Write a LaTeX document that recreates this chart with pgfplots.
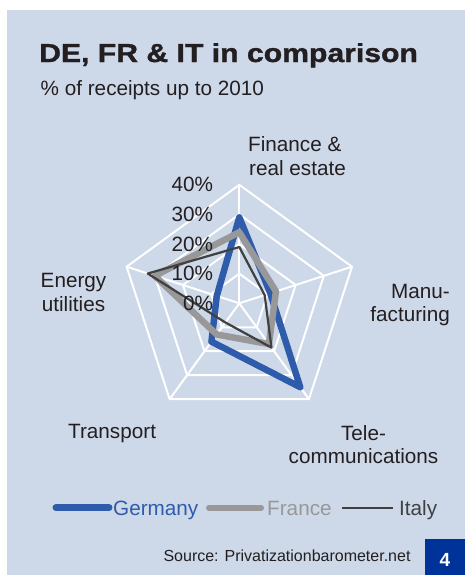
\documentclass[border=0pt]{standalone}
\usepackage{fontspec}
\setmainfont{Liberation Sans}
\newfontfamily\titlefont[BoldFeatures={FakeBold=1.2}]{Liberation Sans}
\usepackage{pgfplots}
\pgfplotsset{compat=1.18}
\usepgfplotslibrary{polar}

\definecolor{panel}{RGB}{205,216,233}
\definecolor{gerblue}{RGB}{46,92,170}
\definecolor{fragray}{RGB}{152,152,152}
\definecolor{itagray}{RGB}{64,64,64}
\definecolor{txt}{RGB}{35,31,32}
\definecolor{boxblue}{RGB}{0,51,153}

\newcommand{\fs}[1]{\fontsize{#1bp}{#1bp}\selectfont}

% angle (deg) / share of receipts (%)
% Finance 90, Manufacturing 18, Telecom 306, Transport 234, Energy 162
\pgfplotstableread{
ang val
90  29
18  11
306 35
234 16
162 8
}\germany
\pgfplotstableread{
ang val
90  24
18  13
306 17
234 13
162 30
}\france
\pgfplotstableread{
ang val
90  19
18  9
306 18.5
234 8
162 32.5
}\italy

\begin{document}
\begin{tikzpicture}
\path[use as bounding box] (0,0) rectangle (465bp,-575bp);
\fill[panel] (7bp,-10bp) rectangle (465bp,-575bp);

% title
\node[anchor=base west, inner sep=0, text=txt] at (39bp,-62bp)
  {\scalebox{1.16}[1]{\fs{26}\titlefont\bfseries DE, FR \& IT in comparison}};
\node[anchor=base west, inner sep=0, text=txt] at (40.5bp,-95bp)
  {\fs{20.7}\% of receipts up to 2010};

% category labels
\begin{scope}[every node/.style={inner sep=0, text=txt, font=\fs{20.7}}]
\node[anchor=base west] at (248bp,-151.7bp) {Finance \&};
\node[anchor=base west] at (249bp,-175bp) {real estate};
\node[anchor=base east] at (450bp,-298bp) {Manu-};
\node[anchor=base east] at (450bp,-321.7bp) {facturing};
\node[anchor=base] at (363.5bp,-440bp) {Tele-};
\node[anchor=base] at (363.5bp,-463bp) {communications};
\node[anchor=base west] at (68bp,-438bp) {Transport};
\node[anchor=base] at (73.5bp,-287bp) {Energy};
\node[anchor=base] at (73.5bp,-311.7bp) {utilities};
\end{scope}

\begin{polaraxis}[
  at={(239.3bp,-303.3bp)}, anchor=center,
  hide axis, scale only axis,
  width=237bp, height=237bp,
  xmin=0, xmax=360, ymin=0, ymax=40,
  clip=false,
  every axis plot/.append style={line join=round, line cap=round},
]
% pentagon grid
\pgfplotsinvokeforeach{10,20,30,40}{
  \addplot[white, line width=2bp, mark=none] coordinates
    {(90,#1) (18,#1) (306,#1) (234,#1) (162,#1) (90,#1)} -- cycle;
}
\pgfplotsinvokeforeach{90,18,306,234,162}{
  \addplot[white, line width=2bp, mark=none] coordinates {(#1,0) (#1,40)};
}

% series
\addplot[gerblue, line width=6.5bp, mark=none] table[x=ang, y=val] {\germany} -- cycle;
\addplot[fragray, line width=6.5bp, mark=none] table[x=ang, y=val] {\france} -- cycle;
\addplot[itagray, line width=2.2bp, mark=none] table[x=ang, y=val] {\italy} -- cycle;

% radial tick labels
\pgfplotsinvokeforeach{0,10,20,30,40}{
  \node[anchor=east, inner sep=0, text=txt, font=\fs{20.7}, xshift=-26bp]
    at (axis cs:90,#1) {#1\%};
}
\end{polaraxis}

% legend
\draw[gerblue, line width=7bp, line cap=round] (56bp,-507.7bp) -- (109bp,-507.7bp);
\node[anchor=base west, inner sep=0, text=gerblue, font=\fs{20.7}] at (113bp,-515bp) {Germany};
\draw[fragray, line width=6bp, line cap=round] (209bp,-507.7bp) -- (261bp,-507.7bp);
\node[anchor=base west, inner sep=0, text=fragray, font=\fs{20.7}] at (267bp,-515bp) {France};
\draw[itagray, line width=2bp] (342bp,-507.7bp) -- (393bp,-507.7bp);
\node[anchor=base west, inner sep=0, text=itagray, font=\fs{20.7}] at (399bp,-515bp) {Italy};

% source and page number
\node[anchor=base east, inner sep=0, text=txt, font=\fs{16}] at (410.7bp,-561.7bp)
  {Source: Privatizationbarometer.net};
\fill[boxblue] (425bp,-539.3bp) rectangle (465bp,-575bp);
\node[text=white, inner sep=0, font=\fs{19}\bfseries] at (445bp,-559.5bp) {4};
\end{tikzpicture}
\end{document}
